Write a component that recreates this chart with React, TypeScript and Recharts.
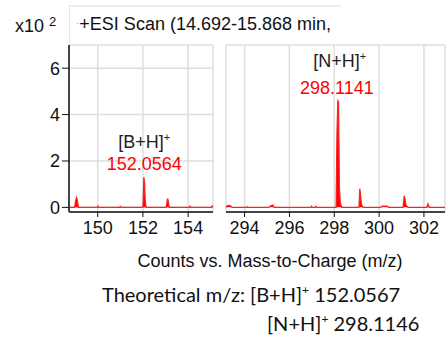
import { ComposedChart, Area, XAxis, YAxis, CartesianGrid, ReferenceDot } from 'recharts';

// m/z window 1 (around [B+H]+)
const lowMz = [
  148.73, 148.98, 149.02, 149.06, 149.1, 149.15, 149.98, 150.01, 150.04, 150.97, 151.0, 151.03,
  152.0, 152.04, 152.07, 152.1, 152.14, 153.03, 153.09, 153.12, 153.16, 154.05, 154.08, 154.11,
  155.02, 155.06, 155.1,
];
const lowCounts = [
  0, 0, 0.28, 0.43, 0.3, 0, 0, 0.05, 0, 0, 0.04, 0,
  0, 1.3, 1.1, 0.35, 0, 0, 0.38, 0.3, 0, 0, 0.05, 0,
  0, 0.06, 0,
];

// m/z window 2 (around [N+H]+)
const highMz = [
  293.17, 293.22, 293.3, 293.38, 293.44, 294.08, 294.11, 294.14, 295.08, 295.13, 295.2, 295.26,
  295.32, 296.96, 296.99, 297.02, 297.15, 297.18, 297.22, 298.08, 298.12, 298.16, 298.19, 298.23,
  298.27, 298.33, 299.1, 299.14, 299.17, 299.21, 299.28, 300.08, 300.12, 300.25, 300.38, 300.42,
  301.07, 301.12, 301.16, 301.2, 301.28, 302.13, 302.18, 302.24, 302.94,
];
const highCounts = [
  0, 0.07, 0.09, 0.06, 0, 0, 0.03, 0, 0, 0.05, 0.08, 0.1,
  0, 0, 0.05, 0, 0, 0.05, 0, 0, 3.2, 4.6, 4.55, 0.9,
  0.2, 0, 0, 0.8, 0.55, 0.15, 0, 0, 0.05, 0.05, 0.05, 0,
  0, 0.5, 0.35, 0.1, 0, 0, 0.15, 0, 0,
];

const lowTicks = [150, 152, 154];
const highTicks = [294, 296, 298, 300, 302];
const yTicks = [0, 2, 4, 6];

const lowData = lowMz.map((mz, i) => ({ mz, counts: lowCounts[i] }));
const highData = highMz.map((mz, i) => ({ mz, counts: highCounts[i] }));

const FONT = 'Arial, "Liberation Sans", sans-serif';
const tickStyle = { fontSize: 18, fill: '#111', fontFamily: FONT };

function PeakLabel(props: any) {
  const { cx, cy, name, mz, top = 29, shift = 0 } = props;
  return (
    <g fontFamily={FONT} fontSize={18} textAnchor="middle">
      <text x={cx + shift} y={cy - top} fill="#222">
        <tspan>{name}</tspan>
        <tspan dy={-7} fontSize={11}>+</tspan>
      </text>
      <text x={cx} y={cy - 7} fill="#ff0000">
        {mz}
      </text>
    </g>
  );
}

export default function App() {
  return (
    <div style={{ position: 'absolute', left: 0, top: 0, width: 448, height: 341, background: '#fff' }}>
      {/* faint title frame */}
      <div
        style={{
          position: 'absolute',
          left: 69,
          top: 5,
          width: 271,
          height: 40,
          borderTop: '2px solid #eee',
          borderLeft: '1px solid #e4e4e4',
        }}
      />
      <div style={{ position: 'absolute', left: 15, top: 16, fontFamily: FONT, fontSize: 18, color: '#111' }}>
        x10 <span style={{ fontSize: 13, position: 'relative', top: -6 }}>2</span>
      </div>
      <div style={{ position: 'absolute', left: 76, top: 14, fontFamily: FONT, fontSize: 18, color: '#111', whiteSpace: 'nowrap' }}>
        <span style={{ color: '#999', fontSize: 10, position: 'relative', top: -3 }}>·</span>+ESI Scan (14.692-15.868 min,
      </div>

      <div style={{ position: 'absolute', left: 0, top: 0 }}>
        <ComposedChart width={215} height={250} data={lowData} margin={{ top: 45, right: 2, bottom: 8, left: 0 }}>
          <CartesianGrid stroke="#dedede" strokeWidth={1.5} />
          <XAxis
            dataKey="mz"
            type="number"
            domain={[148.73, 155.1]}
            ticks={lowTicks}
            allowDataOverflow
            height={30}
            tickSize={5}
            tickMargin={4}
            tick={tickStyle}
            axisLine={{ stroke: '#111', strokeWidth: 1.5 }}
            tickLine={{ stroke: '#111' }}
          />
          <YAxis
            type="number"
            domain={[-0.2, 7]}
            ticks={yTicks}
            allowDataOverflow
            width={69}
            tickSize={7}
            tickMargin={2}
            tick={tickStyle}
            axisLine={{ stroke: '#444', strokeWidth: 2 }}
            tickLine={{ stroke: '#111' }}
          />
          <Area
            type="linear"
            dataKey="counts"
            stroke="#ff2020"
            strokeWidth={1.2}
            fill="#ff0000"
            fillOpacity={1}
            baseValue={0}
            isAnimationActive={false}
            dot={false}
            activeDot={false}
          />
          <ReferenceDot x={152.0564} y={1.3} r={0} shape={(p: any) => <PeakLabel {...p} name="[B+H]" mz="152.0564" top={29} />} />
        </ComposedChart>
      </div>

      <div style={{ position: 'absolute', left: 224, top: 0 }}>
        <ComposedChart width={224} height={250} data={highData} margin={{ top: 45, right: 3, bottom: 8, left: 2 }}>
          <CartesianGrid stroke="#dedede" strokeWidth={1.5} />
          <XAxis
            dataKey="mz"
            type="number"
            domain={[293.17, 302.94]}
            ticks={highTicks}
            allowDataOverflow
            height={30}
            tickSize={5}
            tickMargin={4}
            tick={tickStyle}
            axisLine={{ stroke: '#111', strokeWidth: 1.5 }}
            tickLine={{ stroke: '#111' }}
          />
          <YAxis
            type="number"
            domain={[-0.2, 7]}
            ticks={yTicks}
            allowDataOverflow
            width={0}
            tick={false}
            tickLine={false}
            axisLine={{ stroke: '#e6e6e6', strokeWidth: 1 }}
          />
          <Area
            type="linear"
            dataKey="counts"
            stroke="#ff2020"
            strokeWidth={1.2}
            fill="#ff0000"
            fillOpacity={1}
            baseValue={0}
            isAnimationActive={false}
            dot={false}
            activeDot={false}
          />
          <ReferenceDot x={298.1141} y={4.6} r={0} shape={(p: any) => <PeakLabel {...p} name="[N+H]" mz="298.1141" top={34} shift={3} />} />
        </ComposedChart>
      </div>

      <div style={{ position: 'absolute', left: 0, width: 448, top: 251, textAlign: 'center', paddingLeft: 92, boxSizing: 'border-box', fontFamily: FONT, fontSize: 18, color: '#111', whiteSpace: 'nowrap' }}>
        Counts vs. Mass-to-Charge (m/z)
      </div>
      <div style={{ position: 'absolute', left: 102, top: 282, fontFamily: 'Lato, sans-serif', fontSize: 20, color: '#111', whiteSpace: 'nowrap' }}>
        Theoretical m/z: [B+H]<sup style={{ fontSize: 12 }}>+</sup> 152.0567
      </div>
      <div style={{ position: 'absolute', left: 267, top: 311, fontFamily: 'Lato, sans-serif', fontSize: 20, color: '#111', whiteSpace: 'nowrap' }}>
        [N+H]<sup style={{ fontSize: 12 }}>+</sup> 298.1146
      </div>
    </div>
  );
}
